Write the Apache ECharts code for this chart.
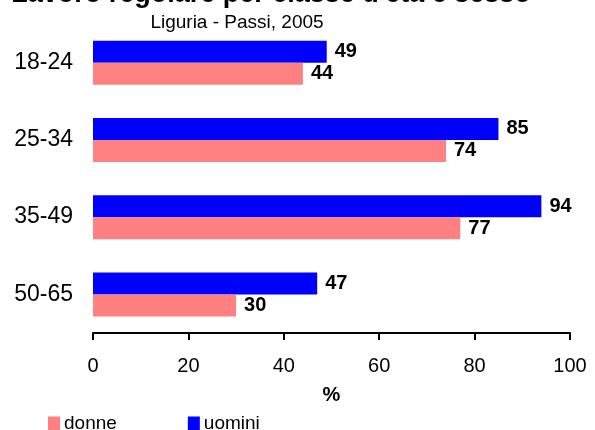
<!DOCTYPE html>
<html>
<head>
<meta charset="utf-8">
<script src="https://cdn.jsdelivr.net/npm/echarts@6/dist/echarts.min.js"></script>
<style>
body { margin: 0; background: #fff; }
#main { width: 595px; height: 430px; }
</style>
</head>
<body>
<div id="main"></div>
<script>
var categories = ['18-24', '25-34', '35-49', '50-65'];
var donne = [44, 74, 77, 30];
var uomini = [49, 85, 94, 47];
var xTicks = [0, 20, 40, 60, 80, 100];

var font = 'Arial, "Liberation Sans", sans-serif';

function labelStyle() {
    return {
        show: true,
        position: 'right',
        distance: 8,
        color: '#000',
        fontFamily: font,
        fontSize: 20,
        fontWeight: 'bold'
    };
}

var option = {
    animation: false,
    backgroundColor: '#fff',
    title: [{
        text: "Lavoro regolare per classe d'età e sesso",
        left: 266,
        textAlign: 'center',
        top: -24,
        textStyle: {fontFamily: font, fontSize: 27, fontWeight: 'bold', color: '#000'}
    }, {
        text: 'Liguria - Passi, 2005',
        left: 232,
        textAlign: 'center',
        top: 8,
        textStyle: {fontFamily: font, fontSize: 19, fontWeight: 'normal', color: '#000'}
    }],
    legend: {
        data: ['donne', 'uomini'],
        left: 43,
        top: 409,
        itemWidth: 12,
        itemHeight: 14,
        itemGap: 71,
        icon: 'rect',
        textStyle: {fontFamily: font, fontSize: 19, color: '#000', padding: [0, 0, 0, -1]}
    },
    grid: {
        left: 93,
        right: 25,
        top: 24,
        bottom: 97
    },
    xAxis: {
        type: 'value',
        min: 0,
        max: 100,
        interval: 20,
        name: '%',
        nameLocation: 'middle',
        nameGap: 52,
        nameTextStyle: {fontFamily: font, fontSize: 20, fontWeight: 'bold', color: '#000'},
        axisLine: {show: true, lineStyle: {color: '#000', width: 2}},
        axisTick: {show: true, length: 7, lineStyle: {color: '#000', width: 2}},
        axisLabel: {
            fontFamily: font, fontSize: 20, color: '#000', margin: 23,
            formatter: function (v) { return xTicks.indexOf(v) >= 0 ? String(v) : ''; }
        },
        splitLine: {show: false}
    },
    yAxis: {
        type: 'category',
        data: categories,
        inverse: true,
        axisLine: {show: false},
        axisTick: {show: false},
        axisLabel: {fontFamily: font, fontSize: 23, color: '#000', margin: 20}
    },
    series: [{
        name: 'uomini',
        type: 'bar',
        data: uomini,
        barWidth: 22,
        barGap: '0%',
        itemStyle: {color: '#0000ff'},
        label: labelStyle()
    }, {
        name: 'donne',
        type: 'bar',
        data: donne,
        barWidth: 22,
        barGap: '0%',
        itemStyle: {color: '#ff8080'},
        label: labelStyle()
    }]
};

var chart = echarts.init(document.getElementById('main'));
chart.setOption(option);
</script>
</body>
</html>
